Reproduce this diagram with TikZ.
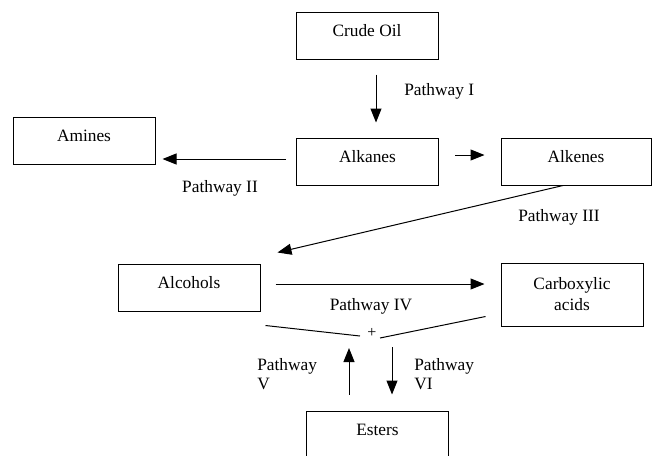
\documentclass[tikz,border=0pt]{standalone}
\usepackage{fontspec}
\setmainfont{Liberation Serif}
\usetikzlibrary{arrows.meta,calc}

\begin{document}
\begin{tikzpicture}[
        x=0.75pt,
        y=-0.75pt,
        font=\fontsize{13}{15.5}\selectfont,
        box/.style={
            rectangle,
            draw=black,
            line width=0.75pt,
            minimum width=106.5pt,
            inner sep=0pt,
            text centered,
        },
        oneline/.style={
            text height=18pt,
            text depth=17.25pt,
        },
        wide/.style={
            minimum width=112.5pt,
        },
        twolines/.style={
            minimum height=47.25pt,
            align=center,
            font=\fontsize{13}{15.75}\selectfont,
        },
        arrow/.style={
            line width=0.75pt,
            -{Triangle[length=10.5pt,width=8.25pt]},
        },
        link/.style={
            line width=0.75pt,
        },
        pathname/.style={
            inner sep=0pt,
        },
    ]
        \useasboundingbox (0,0) rectangle (653,455);

        \node [box, oneline] (crude) at (367,35.5) {Crude Oil};
        \node [box, oneline] (alkanes) at (367.5,161.5) {Alkanes};
        \node [box, oneline] (amines) at (84,141) {Amines};
        \node [box, oneline, wide] (alkenes) at (576,161.5) {Alkenes};
        \node [box, oneline] (alcohols) at (189,287.5) {Alcohols};
        \node [box, twolines] (acids) at (572,294.5) {Carboxylic\\acids};
        \node [box, oneline] (esters) at (377.5,434.5) {Esters};

        \node [inner sep=0pt, font=\fontsize{12}{12}\selectfont] (plus) at (372,333) {+};

        \draw [arrow] ($(crude.south)+(9,15)$) -- ($(alkanes.north)+(8.5,-15)$);
        \draw [arrow] ($(alkanes.west)+(-10,-2.5)$) -- ($(amines.east)+(7,18)$);
        \draw [arrow] ($(alkanes.east)+(16,-6.5)$) -- ($(alkenes.west)+(-16,-6.5)$);
        \draw [arrow] ($(alkenes.south)+(-13,0)$) -- ($(alcohols.north east)+(17,-11)$);
        \draw [arrow] ($(alcohols.east)+(15,-3.5)$) -- ($(acids.west)+(-16,-10.5)$);
        \draw [link] ($(alcohols.south east)+(5,14)$) -- ($(plus)+(-12,3)$);
        \draw [link] ($(plus)+(8,5)$) -- ($(acids.south west)+(-15,-10)$);
        \draw [arrow] ($(esters.north)+(-28.5,-16)$) -- ($(plus)+(-23,15)$);
        \draw [arrow] ($(plus)+(20,14)$) -- ($(esters.north)+(14.5,-16)$);

        \node [pathname, anchor=west] (pathI) at (404,91) {Pathway I};
        \node [pathname] (pathII) at (220,188) {Pathway II};
        \node [pathname] (pathIII) at (559,217) {Pathway III};
        \node [pathname] (pathIV) at (371,306) {Pathway IV};
        \node [pathname, anchor=west, align=left, font=\fontsize{13}{14.25}\selectfont] (pathV) at (257,374.5) {Pathway\\V};
        \node [pathname, anchor=west, align=left, font=\fontsize{13}{14.25}\selectfont] (pathVI) at (414,374.5) {Pathway\\VI};
    \end{tikzpicture}
\end{document}
